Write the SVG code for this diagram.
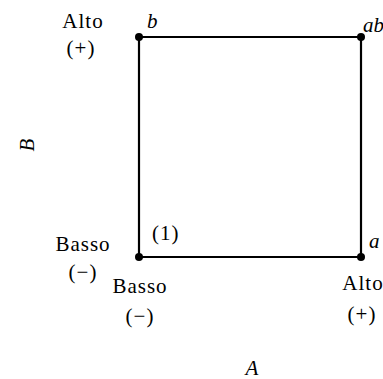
<svg xmlns="http://www.w3.org/2000/svg" width="383" height="379" viewBox="0 0 383 379">
<style>
text{font-family:"Liberation Serif","Times New Roman",serif;font-size:21px;letter-spacing:1px;fill:#000}
.i{font-style:italic;letter-spacing:0}
.m{text-anchor:middle}
.e{stroke:#000;stroke-width:2.2;fill:none}
.d{fill:#000}
</style>
<rect width="383" height="379" fill="#fff"/>
<g id="connectors">
<line class="e" x1="139" y1="37" x2="361" y2="37"/>
<line class="e" x1="361" y1="37" x2="361" y2="257"/>
<line class="e" x1="361" y1="257" x2="139" y2="257"/>
<line class="e" x1="139" y1="257" x2="139" y2="37"/>
</g>
<g id="node-b"><circle class="d" cx="139" cy="37" r="4"/><text class="i" x="147" y="28">b</text></g>
<g id="node-ab"><circle class="d" cx="361" cy="37" r="4"/><text class="i" x="363" y="32">ab</text></g>
<g id="node-1"><circle class="d" cx="139" cy="257" r="4"/><text x="152" y="240">(1)</text></g>
<g id="node-a"><circle class="d" cx="361" cy="257" r="4"/><text class="i" x="369" y="248">a</text></g>
<g id="labels">
<text class="m" x="83" y="28">Alto</text>
<text class="m" x="81" y="55">(+)</text>
<text class="m" x="83" y="251">Basso</text>
<text class="m" x="83" y="279">(−)</text>
<text class="m" x="140" y="293">Basso</text>
<text class="m" x="140" y="323">(−)</text>
<text class="m" x="363" y="290">Alto</text>
<text class="m" x="362" y="321">(+)</text>
<text class="i m" x="252" y="375">A</text>
<text class="i m" transform="translate(34,145) rotate(-90)">B</text>
</g>
</svg>
